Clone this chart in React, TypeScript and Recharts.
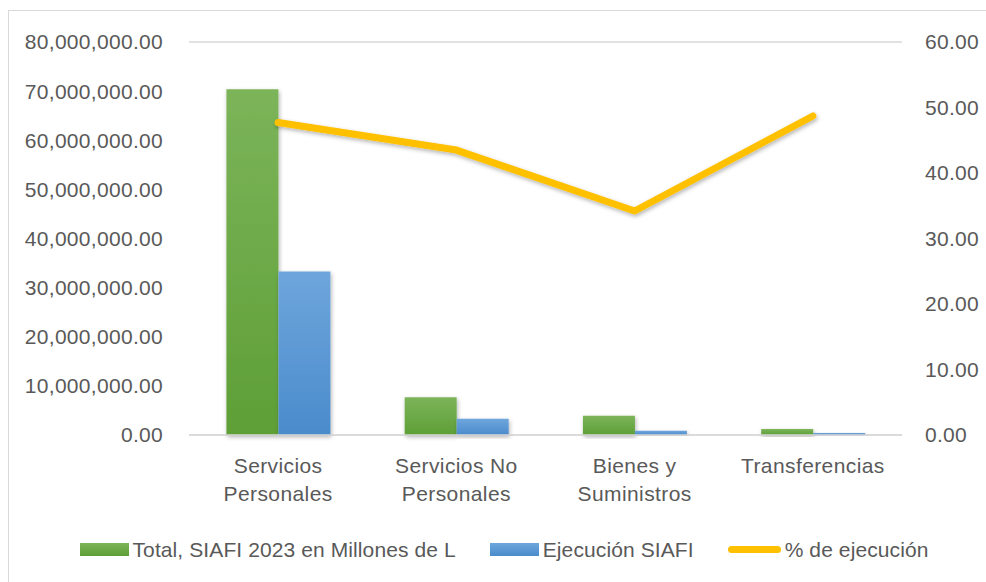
import React from "react";
import {
  ComposedChart,
  Bar,
  Line,
  XAxis,
  YAxis,
  CartesianGrid,
  Legend,
} from "recharts";

const categories = ["Servicios\nPersonales", "Servicios No\nPersonales", "Bienes y\nSuministros", "Transferencias"];
const totalSiafi = [70400000, 7700000, 3900000, 1200000];
const ejecucionSiafi = [33300000, 3300000, 850000, 400000];
const pctEjecucion = [47.7, 43.5, 34.2, 48.7];
const leftTicks = [0, 10000000, 20000000, 30000000, 40000000, 50000000, 60000000, 70000000, 80000000];
const rightTicks = [0, 10, 20, 30, 40, 50, 60];

const FONT = "'Liberation Sans', Arial, sans-serif";
const TEXT = "#595959";
const GRID = "#d9d9d9";

const data = categories.map((c, i) => ({
  name: c,
  total: totalSiafi[i],
  ejec: ejecucionSiafi[i],
  pct: pctEjecucion[i],
}));

const fmtMoney = (v: number) =>
  v.toLocaleString("en-US", { minimumFractionDigits: 2, maximumFractionDigits: 2 });

function CategoryTick(props: any) {
  const { x, y, payload } = props;
  const lines = String(payload.value).split("\n");
  return (
    <text
      x={x}
      y={y + 30}
      textAnchor="middle"
      fill={TEXT}
      fontSize={21}
      letterSpacing={0.4}
      fontFamily={FONT}
    >
      {lines.map((l, i) => (
        <tspan key={i} x={x} dy={i === 0 ? 0 : 28}>
          {l}
        </tspan>
      ))}
    </text>
  );
}

function LegendContent() {
  const item = (swatch: React.ReactNode, label: string) => (
    <div style={{ display: "flex", alignItems: "center" }}>
      {swatch}
      <span style={{ marginLeft: 4 }}>{label}</span>
    </div>
  );
  return (
    <div
      style={{
        display: "flex",
        justifyContent: "center",
        gap: 34,
        height: 37,
        paddingLeft: 22,
        alignItems: "center",
        fontFamily: FONT,
        fontSize: 21,
        letterSpacing: 0.1,
        color: TEXT,
      }}
    >
      {item(<div style={{ width: 49, height: 13, background: "linear-gradient(#7cb45a,#5e9f36)" }} />, "Total, SIAFI 2023 en Millones de L")}
      {item(<div style={{ width: 49, height: 13, background: "linear-gradient(#6ea6dc,#4a8bcc)" }} />, "Ejecución SIAFI")}
      {item(<div style={{ width: 53, height: 7, borderRadius: 4, background: "#ffc000" }} />, "% de ejecución")}
    </div>
  );
}

export default function App() {
  return (
    <div style={{ position: "absolute", left: 0, top: 0, width: 986, height: 582, overflow: "hidden", background: "#fff" }}>
      <style>{`body{margin:0}`}</style>
      <div
        style={{
          position: "absolute",
          left: 8,
          top: 10,
          width: 1000,
          height: 600,
          border: `1.5px solid ${GRID}`,
        }}
      />
      <div style={{ position: "absolute", left: 0, top: 0 }}>
        <ComposedChart
          width={986}
          height={582}
          data={data}
          margin={{ top: 42, right: 0, left: 0, bottom: 14 }}
          barCategoryGap="21%"
          barGap={0}
        >
          <defs>
            <linearGradient id="gGreen" x1="0" y1="0" x2="0" y2="1">
              <stop offset="0%" stopColor="#7cb45a" />
              <stop offset="100%" stopColor="#5e9f36" />
            </linearGradient>
            <linearGradient id="gBlue" x1="0" y1="0" x2="0" y2="1">
              <stop offset="0%" stopColor="#6ea6dc" />
              <stop offset="100%" stopColor="#4a8bcc" />
            </linearGradient>
            <filter id="shadow" x="-20%" y="-20%" width="140%" height="140%">
              <feDropShadow dx="1" dy="2" stdDeviation="2" floodColor="#000" floodOpacity="0.3" />
            </filter>
          </defs>
          <CartesianGrid vertical={false} stroke={GRID} strokeWidth={1.5} />
          <XAxis
            dataKey="name"
            height={96}
            axisLine={{ stroke: GRID, strokeWidth: 1.5 }}
            tickLine={false}
            tick={<CategoryTick />}
            interval={0}
          />
          <YAxis
            yAxisId="left"
            width={189}
            domain={[0, 80000000]}
            ticks={leftTicks}
            tickFormatter={fmtMoney}
            axisLine={false}
            tickLine={false}
            tickMargin={20}
            tick={{ fill: TEXT, fontSize: 21, letterSpacing: 0.3, fontFamily: FONT }}
          />
          <YAxis
            yAxisId="right"
            orientation="right"
            width={84}
            domain={[0, 60]}
            ticks={rightTicks}
            tickFormatter={(v: number) => v.toFixed(2)}
            axisLine={false}
            tickLine={false}
            tickMargin={17}
            tick={{ fill: TEXT, fontSize: 21, letterSpacing: 0.3, fontFamily: FONT }}
          />
          <Bar yAxisId="left" dataKey="total" fill="url(#gGreen)" filter="url(#shadow)" isAnimationActive={false} />
          <Bar yAxisId="left" dataKey="ejec" fill="url(#gBlue)" filter="url(#shadow)" isAnimationActive={false} />
          <Line
            yAxisId="right"
            dataKey="pct"
            stroke="#ffc000"
            strokeWidth={7}
            strokeLinecap="round"
            strokeLinejoin="round"
            dot={false}
            filter="url(#shadow)"
            isAnimationActive={false}
          />
          <Legend verticalAlign="bottom" content={<LegendContent />} />
        </ComposedChart>
      </div>
    </div>
  );
}
